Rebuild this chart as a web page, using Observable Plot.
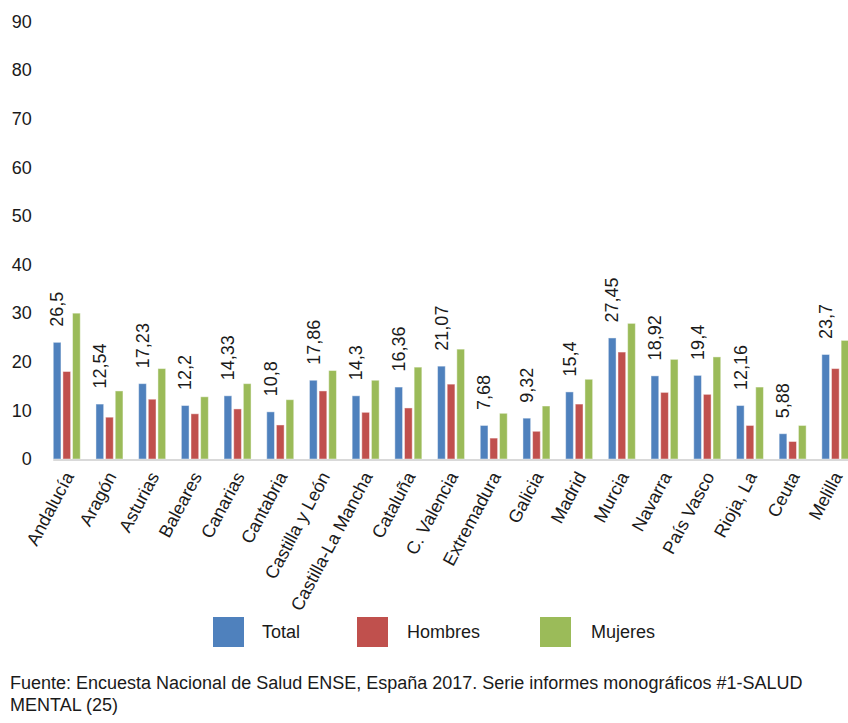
<!DOCTYPE html>
<html>
<head>
<meta charset="utf-8">
<script src="https://cdn.jsdelivr.net/npm/d3@7"></script>
<script src="https://cdn.jsdelivr.net/npm/@observablehq/plot@0.6"></script>
<style>
  html, body { margin: 0; padding: 0; background: #fff; overflow: hidden; }
  body { width: 848px; height: 723px; position: relative; font-family: "Liberation Sans", Arial, sans-serif; color: #1a1a1a; }
  #chart { position: absolute; left: 0; top: 0; width: 848px; overflow: hidden; }
  #chart svg { overflow: visible; }
  .leg-sw { position: absolute; width: 31px; height: 30px; }
  .leg-tx { position: absolute; font-size: 18px; line-height: 30px; }
  #caption { position: absolute; left: 10px; top: 672px; font-size: 18px; line-height: 22px; }
</style>
</head>
<body>
<div id="chart"></div>
<div id="legend"></div>
<div id="caption">Fuente: Encuesta Nacional de Salud ENSE, España 2017. Serie informes monográficos #1-SALUD<br>MENTAL (25)</div>
<script>
const regions = ["Andalucía","Aragón","Asturias","Baleares","Canarias","Cantabria","Castilla y León","Castilla-La Mancha","Cataluña","C. Valencia","Extremadura","Galicia","Madrid","Murcia","Navarra","País Vasco","Rioja, La","Ceuta","Melilla"];
const series = ["Total","Hombres","Mujeres"];
const colors = ["#4F81BD","#C0504D","#9BBB59"];
const total   = [24.0,11.3,15.5,11.0,13.0, 9.7,16.2,13.0,14.8,19.1,6.9, 8.4,13.8,24.9,17.1,17.2,11.0,5.2,21.5];
const hombres = [18.0, 8.6,12.3, 9.3,10.3, 7.0,14.0, 9.6,10.5,15.4,4.3, 5.7,11.3,22.0,13.7,13.3, 6.9,3.6,18.6];
const mujeres = [30.0,14.0,18.6,12.8,15.5,12.2,18.2,16.2,18.9,22.6,9.4,10.9,16.4,27.9,20.5,21.0,14.8,6.9,24.4];
const labels  = ["26,5","12,54","17,23","12,2","14,33","10,8","17,86","14,3","16,36","21,07","7,68","9,32","15,4","27,45","18,92","19,4","12,16","5,88","23,7"];
const yTicks  = [0,10,20,30,40,50,60,70,80,90];

const values = [total, hombres, mujeres];
const rows = [];
regions.forEach((r, i) => series.forEach((s, j) => rows.push({region: r, serie: s, value: values[j][i]})));
const labelRows = regions.map((r, i) => ({region: r, serie: "Total", value: total[i], label: labels[i]}));

const W = 848, H = 640;
const chart = Plot.plot({
  width: W,
  height: H,
  marginTop: 21.5,
  marginBottom: H - 459,
  marginLeft: 45.4,
  marginRight: -8.7,
  style: {fontFamily: "'Liberation Sans', Arial, sans-serif", fontSize: "18px", color: "#1a1a1a", background: "transparent"},
  fx: {domain: regions, paddingInner: 0.3677, paddingOuter: 0.184, round: false, label: null},
  x: {domain: series, paddingInner: 0.2, paddingOuter: 0, round: false, axis: null},
  y: {domain: [0, 90], label: null},
  color: {domain: series, range: colors},
  marks: [
    Plot.axisY({ticks: yTicks, tickSize: 0, tickPadding: 22, label: null, fontSize: 18}),
    Plot.axisFx({anchor: "bottom", tickSize: 0, tickPadding: 14, tickRotate: -62, dx: 2, label: null, fontSize: 18}),
    Plot.barY(rows, {fx: "region", x: "serie", y: "value", fill: "serie", stroke: "#ffffff", strokeOpacity: 0.45, strokeWidth: 1}),
    Plot.text(labelRows, {fx: "region", x: "serie", y: "value", text: "label", rotate: -90, textAnchor: "start", dy: -16, fontSize: 18, fill: "#1a1a1a"})
  ]
});
document.getElementById("chart").appendChild(chart);

// baseline across the full plot width, placed with the library's scales
const fx = chart.scale("fx"), y = chart.scale("y");
const y0 = y.apply(0);
d3.select(chart).append("line")
  .attr("x1", fx.apply(regions[0])).attr("x2", W)
  .attr("y1", y0 + 1).attr("y2", y0 + 1)
  .attr("stroke", "#d9d9d9").attr("stroke-width", 2);

// legend
const legend = document.getElementById("legend");
const legPos = [[213, 262], [357, 407], [540, 591]];
series.forEach((s, i) => {
  const sw = document.createElement("div");
  sw.className = "leg-sw";
  sw.style.left = legPos[i][0] + "px"; sw.style.top = "617px"; sw.style.background = colors[i];
  legend.appendChild(sw);
  const tx = document.createElement("div");
  tx.className = "leg-tx";
  tx.style.left = legPos[i][1] + "px"; tx.style.top = "617px";
  tx.textContent = s;
  legend.appendChild(tx);
});
</script>
</body>
</html>
